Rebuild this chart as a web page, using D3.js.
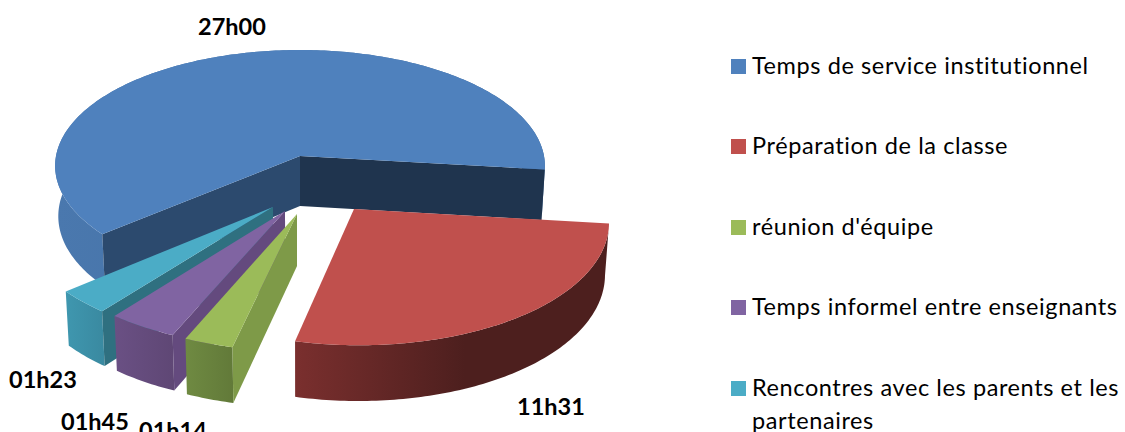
<!DOCTYPE html>
<html><head><meta charset="utf-8">
<style>html,body{margin:0;padding:0;background:#fff;overflow:hidden}svg{display:block}
text{font-family:Lato,"Open Sans",sans-serif;fill:#000}</style>
<script src="https://cdn.jsdelivr.net/npm/d3@7/dist/d3.min.js"></script></head><body>
<script>
// Data (minutes; labels as printed)
const categories = ["Temps de service institutionnel","Préparation de la classe","réunion d'équipe","Temps informel entre enseignants","Rencontres avec les parents et les partenaires"];
const minutes = [1620, 691, 74, 105, 83];
const valueLabels = ["27h00","11h31","01h14","01h45","01h23"];
// Styles and layout
const topColors  = ["#4f81bd","#c0504d","#9bbb59","#8064a2","#4bacc6"];
const wallStops  = [["#3f6a9c","#4a78ae"],["#7a2f2e","#4d1f1e"],["#6f8a42","#627a39"],["#6a5084","#5f4775"],["#3f97af","#3a8aa1"]];
const faceColors = [["#2c4a6e","#1f344e"],[null,null],["#7e9a48",null],["#644a7e",null],["#2f7080",null]];
const explodePx  = [[0,0],[54,53],[-3,58],[-15,55],[-27,51]];
const labelPos   = [[232,35],[551,415],[173,439],[95,430],[43,388]];
const legendY    = [59,139,220,300,381];
const legendLines= [["Temps de service institutionnel"],["Préparation de la classe"],["réunion d'équipe"],["Temps informel entre enseignants"],["Rencontres avec les parents et les","partenaires"]];

const W=1125,H=432,cx=300,cy=156,R=244,A=115,B=0.085;
const svg=d3.select("body").append("svg").attr("width",W).attr("height",H);
const defs=svg.append("defs");

// perspective projection of a point on the pie plane, optionally dropped by z
function proj(u,v,z){
  const k=1/(1-B*v);
  const x=R*u*k, y=A*v*k;
  if(!z) return [cx+x,cy+y];
  const sx=cx+x;
  return [sx-(sx-cx)*0.013, cy+y+50+4*v];
}
const inv=(sx,sy)=>{const v=sy/(A+B*sy);return [sx*(1-B*v)/R,v];};

const first=230*Math.PI/180;
const pie=d3.pie().sort(null).value(d=>d).startAngle(first).endAngle(first+2*Math.PI);
const arcs=pie(minutes);
const line=d3.line();
const drawOrder=[0,4,3,2,1];

drawOrder.forEach(i=>{
  const a=arcs[i];
  const [ou,ov]=inv(explodePx[i][0],explodePx[i][1]);
  const pt=(th,r,z)=>proj(ou+r*Math.sin(th),ov-r*Math.cos(th),z);
  const n=Math.max(12,Math.ceil((a.endAngle-a.startAngle)*60));
  const ths=d3.range(n+1).map(t=>a.startAngle+(a.endAngle-a.startAngle)*t/n);
  const g=svg.append("g");
  const topArc=ths.map(t=>pt(t,1,false));
  const botArc=ths.map(t=>pt(t,1,true));
  // outer wall gradient, only over the part that faces the viewer
  const vis=ths.map((t,j)=>[t,j]).filter(([t])=>Math.cos(t)<0.1);
  const xs=vis.map(([t,j])=>topArc[j][0]);
  const gid="wall"+i;
  const x0=d3.min(xs), x1=i===1?d3.min(xs)+170:d3.max(xs);
  const gr=defs.append("linearGradient").attr("id",gid).attr("gradientUnits","userSpaceOnUse")
    .attr("x1",x0).attr("x2",x1).attr("y1",0).attr("y2",0);
  gr.append("stop").attr("offset",0).attr("stop-color",i===0?wallStops[i][1]:wallStops[i][0]);
  gr.append("stop").attr("offset",1).attr("stop-color",i===0?wallStops[i][0]:wallStops[i][1]);
  g.append("path").attr("d",line(topArc.concat(botArc.slice().reverse()))+"Z").attr("fill","url(#"+gid+")");
  // cut faces
  const face=(th,col)=>{ if(!col) return;
    g.append("path").attr("d",line([pt(th,0,false),pt(th,1,false),pt(th,1,true),pt(th,0,true)])+"Z").attr("fill",col);};
  face(a.endAngle,faceColors[i][1]);
  face(a.startAngle,faceColors[i][0]);
  // top
  g.append("path").attr("d",line([pt(0,0,false)].concat(topArc))+"Z").attr("fill",topColors[i]);
});

// value labels
svg.selectAll("text.v").data(valueLabels).join("text").attr("class","v")
  .attr("x",(d,i)=>labelPos[i][0]).attr("y",(d,i)=>labelPos[i][1])
  .attr("text-anchor","middle").attr("font-weight","700").attr("font-size",23.5).text(d=>d);

// legend
const leg=svg.selectAll("g.l").data(categories).join("g").attr("class","l");
leg.append("rect").attr("x",731).attr("y",(d,i)=>legendY[i]).attr("width",15).attr("height",15).attr("fill",(d,i)=>topColors[i]);
leg.each(function(d,i){
  legendLines[i].forEach((t,j)=>{
    d3.select(this).append("text").attr("x",752).attr("y",legendY[i]+14.5+j*33)
      .attr("font-size",23.5).attr("letter-spacing",0.6).text(t);
  });
});
</script></body></html>
